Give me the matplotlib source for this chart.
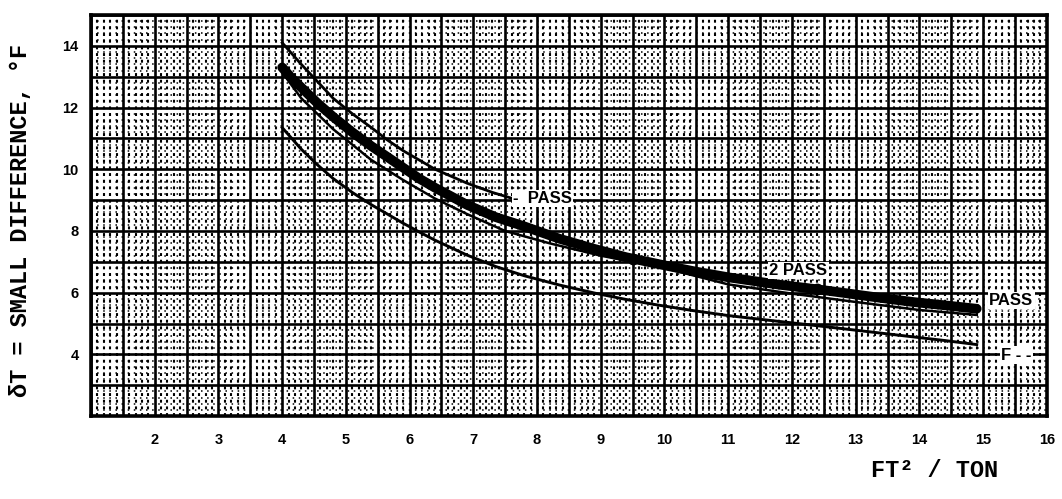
import numpy as np
import matplotlib.pyplot as plt

# curves (x = FT^2/TON, y = delta T, deg F)
one_pass_x = [4.0, 4.15, 4.3, 4.55, 4.8, 5.1, 5.4, 5.65, 5.9, 6.15, 6.4, 6.9, 7.3, 7.7]
one_pass_y = [14.1, 13.75, 13.4, 12.85, 12.3, 11.8, 11.35, 10.95, 10.6, 10.3, 10.0, 9.55, 9.25, 9.0]

thick_x = [4.0, 4.15, 4.3, 4.55, 4.8, 5.1, 5.4, 5.65, 5.9, 6.15, 6.4, 6.9, 7.35, 7.8, 8.35,
           8.9, 9.4, 9.9, 10.45, 11.0, 11.8, 12.4, 12.9, 13.4, 13.9, 14.5, 14.9]
thick_y = [13.3, 12.95, 12.65, 12.15, 11.7, 11.2, 10.75, 10.4, 10.05, 9.7, 9.4, 8.85, 8.45, 8.15, 7.75,
           7.42, 7.15, 6.93, 6.7, 6.5, 6.26, 6.11, 5.97, 5.83, 5.7, 5.57, 5.48]

thin_x = [4.05, 4.3, 4.8, 5.4, 5.9, 6.4, 6.9, 7.5, 8.2, 9.0, 10.0, 11.0, 12.0, 13.0, 14.0, 14.9]
thin_y = [13.0, 12.3, 11.3, 10.3, 9.65, 9.05, 8.55, 8.0, 7.6, 7.2, 6.8, 6.27, 5.97, 5.7, 5.44, 5.28]

low_x = [4.0, 4.15, 4.3, 4.55, 4.8, 5.1, 5.4, 5.65, 5.9, 6.15, 6.4, 6.9, 7.35, 7.8, 8.35,
         8.9, 9.4, 9.9, 10.45, 11.0, 11.5, 12.4, 13.4, 14.4, 14.9]
low_y = [11.35, 11.0, 10.65, 10.15, 9.7, 9.25, 8.85, 8.55, 8.25, 7.97, 7.7, 7.22, 6.85, 6.55, 6.25,
         5.99, 5.78, 5.6, 5.42, 5.26, 5.14, 4.93, 4.69, 4.45, 4.32]

dot_x = [9.5, 12.4]
dot_y = [7.1, 6.11]

xticks = list(range(2, 17))
yticks = [4, 6, 8, 10, 12, 14]

fig = plt.figure(figsize=(10.62, 4.99), dpi=100, facecolor='w')
ax = fig.add_axes([0.0857, 0.166, 0.900, 0.804])
ax.set_xlim(1, 16)
ax.set_ylim(2, 15)

# graph paper: heavy cell lines plus a dotted fill
ax.set_xticks(xticks)
ax.set_yticks(yticks)
ax.set_xticks(np.arange(1, 16.01, 0.5), minor=True)
ax.set_yticks(np.arange(2, 15.01, 1), minor=True)
ax.grid(which='both', color='k', lw=1.9, zorder=1)
fx = [v for v in np.arange(1.1, 16, 0.1) if abs(v * 2 - round(v * 2)) > 0.01]
fy = [v for v in np.arange(2.2, 15, 0.2) if abs(v - round(v)) > 0.01]
ax.vlines(fx, 2, 15, colors='k', lw=1.5, linestyles=(0, (1.4, 1.8)), zorder=1)
ax.hlines(fy, 1, 16, colors='k', lw=1.1, linestyles=(0, (1, 3)), zorder=1)

ax.plot(one_pass_x, one_pass_y, 'k-', lw=2.0, zorder=3)
ax.plot(thin_x, thin_y, 'k-', lw=1.8, zorder=3)
ax.plot(low_x, low_y, 'k-', lw=2.1, zorder=3)
ax.plot(thick_x, thick_y, 'k-', lw=7, solid_capstyle='round', zorder=4)
ax.plot(dot_x, dot_y, 'ko', ms=7.5, zorder=5)

lab = dict(fontsize=12, fontweight='bold', family='Liberation Sans', zorder=6,
           bbox=dict(facecolor='w', edgecolor='none', pad=1.0))
ax.text(7.62, 9.05, '-  PASS', ha='left', va='center', **lab)
ax.text(12.1, 6.72, '2 PASS', ha='center', va='center', **lab)
ax.text(15.44, 5.75, 'PASS', ha='center', va='center', **lab)
ax.text(15.52, 3.98, 'F - -', ha='center', va='center', **lab)

for s in ax.spines.values():
    s.set_linewidth(2.6)
ax.tick_params(which='both', length=0)
ax.tick_params(axis='x', pad=12)
ax.tick_params(axis='y', pad=9)
for t in ax.get_xticklabels() + ax.get_yticklabels():
    t.set_fontsize(10.5)
    t.set_fontweight('bold')
    t.set_family('Liberation Sans')

fig.text(0.019, 0.559, 'δT = SMALL DIFFERENCE, °F', rotation=90, ha='center', va='center',
         fontsize=17, fontweight='bold', family='Liberation Mono')
fig.text(0.880, 0.058, 'FT² / TON', ha='center', va='center',
         fontsize=17, fontweight='bold', family='Liberation Mono')

fig.savefig('out.png', dpi=100, facecolor='w')
